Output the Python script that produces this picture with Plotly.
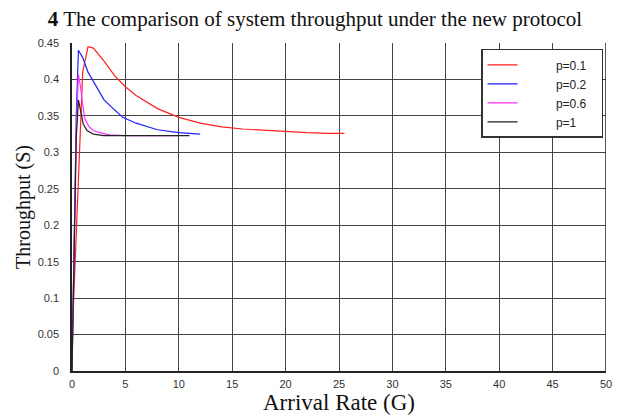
import plotly.graph_objects as go

# Data
G_p01 = [0.0, 0.3, 0.7, 1.0, 1.5, 2.0, 3.0, 4.0, 5.0, 6.0, 8.0, 10.0, 12.0, 14.0, 16.0, 18.0, 20.0, 22.0, 24.0, 25.5]
S_p01 = [0.04, 0.15, 0.32, 0.41, 0.445, 0.443, 0.425, 0.405, 0.39, 0.378, 0.36, 0.348, 0.34, 0.335, 0.332, 0.33, 0.328, 0.327, 0.326, 0.326]

G_p02 = [0.0, 0.2, 0.4, 0.6, 1.0, 1.5, 2.3, 3.0, 4.0, 4.75, 6.0, 8.0, 10.0, 12.0]
S_p02 = [0.0, 0.15, 0.35, 0.44, 0.43, 0.41, 0.389, 0.372, 0.358, 0.348, 0.34, 0.331, 0.327, 0.325]

G_p06 = [0.0, 0.2, 0.4, 0.6, 0.8, 1.0, 1.2, 1.6, 2.0, 2.6, 3.5, 5.0, 7.0, 10.0]
S_p06 = [0.0, 0.15, 0.33, 0.407, 0.39, 0.365, 0.346, 0.335, 0.33, 0.327, 0.324, 0.323, 0.323, 0.323]

G_p1 = [0.0, 0.2, 0.4, 0.6, 0.8, 1.05, 1.4, 2.0, 3.0, 5.0, 8.0, 11.0]
S_p1 = [0.0, 0.16, 0.32, 0.372, 0.355, 0.339, 0.33, 0.325, 0.323, 0.323, 0.323, 0.323]

series_names = ["p=0.1", "p=0.2", "p=0.6", "p=1"]
series_colors = ["#ff2020", "#2020ff", "#ff30ff", "#222222"]

x_ticks = [0, 5, 10, 15, 20, 25, 30, 35, 40, 45, 50]
y_ticks = [0, 0.05, 0.1, 0.15, 0.2, 0.25, 0.3, 0.35, 0.4, 0.45]
y_tick_labels = ["0", "0.05", "0.1", "0.15", "0.2", "0.25", "0.3", "0.35", "0.4", "0.45"]

NB = "\u00a0"

fig = go.Figure()
for gx, sy, name, color in zip([G_p01, G_p02, G_p06, G_p1],
                               [S_p01, S_p02, S_p06, S_p1],
                               series_names, series_colors):
    fig.add_trace(go.Scatter(x=gx, y=sy, mode="lines",
                             name=NB * 10 + name + NB * 3,
                             line=dict(color=color, width=1.2)))

fig.add_shape(type="line", xref="x", yref="paper", x0=50, x1=50, y0=0, y1=1,
              line=dict(color="#222222", width=1.5))

fig.update_layout(
    width=619, height=418,
    margin=dict(l=72, r=7, t=43, b=42),
    paper_bgcolor="white", plot_bgcolor="white",
    title=dict(text="<b>4</b> The comparison of system throughput under the new protocol",
               x=315 / 619, xanchor="center", y=0.955, yanchor="middle",
               font=dict(family="Liberation Serif", size=21, color="#111111")),
    legend=dict(x=0.766, y=0.982, xanchor="left", yanchor="top",
                bgcolor="white", bordercolor="#333333", borderwidth=1.5,
                font=dict(family="Liberation Sans", size=12, color="#222222"),
                tracegroupgap=0),
    showlegend=True,
)
fig.update_xaxes(range=[0, 50], tickvals=x_ticks, ticktext=[str(v) for v in x_ticks],
                 showgrid=True, gridcolor="#444444", gridwidth=1,
                 showline=True, linecolor="#222222", linewidth=1.5,
                 zeroline=False, ticks="", ticklabelstandoff=2,
                 tickfont=dict(family="Liberation Sans", size=11, color="#333333"),
                 title=dict(text="Arrival Rate (G)", standoff=5,
                            font=dict(family="Liberation Serif", size=23, color="#111111")))
fig.update_yaxes(range=[0, 0.45], tickvals=y_ticks, ticktext=y_tick_labels,
                 showgrid=True, gridcolor="#444444", gridwidth=1,
                 showline=True, linecolor="#222222", linewidth=1.5,
                 zeroline=False, ticks="", ticklabelstandoff=9,
                 tickfont=dict(family="Liberation Sans", size=11, color="#333333"),
                 title=dict(text="Throughput (S)", standoff=2,
                            font=dict(family="Liberation Serif", size=20, color="#111111")))

fig.write_html("out.html")
